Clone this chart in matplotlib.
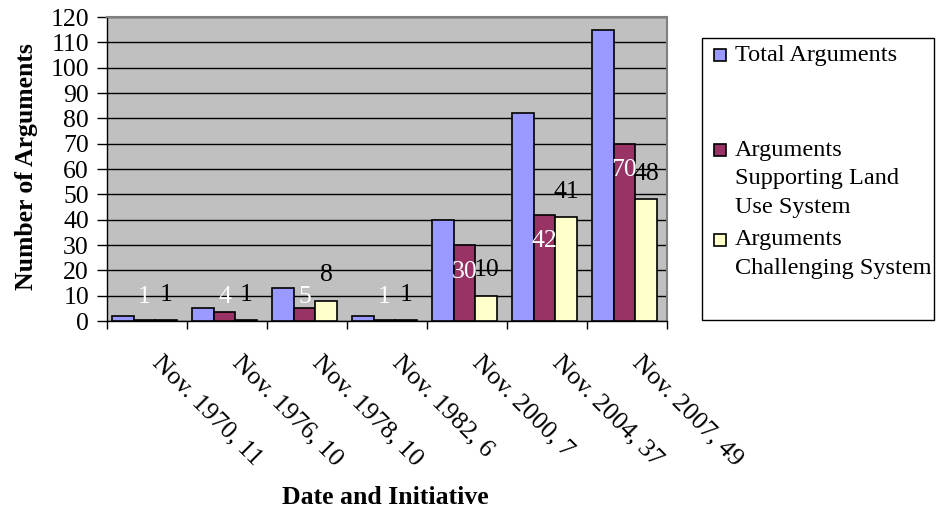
import matplotlib
matplotlib.use("Agg")
import matplotlib.pyplot as plt
from matplotlib.patches import Rectangle
import matplotlib.transforms as mtrans
import numpy as np

plt.rcParams['font.family'] = ['Liberation Serif', 'DejaVu Serif']

categories = ["Nov. 1970, 11", "Nov. 1976, 10", "Nov. 1978, 10", "Nov. 1982, 6",
              "Nov. 2000, 7", "Nov. 2004, 37", "Nov. 2007, 49"]
total = [2, 5, 13, 2, 40, 82, 115]
supporting = [0.4, 3.5, 5, 0.4, 30, 42, 70]
challenging = [0.4, 0.4, 8, 0.4, 10, 41, 48]
supporting_labels = ["1", "4", "5", "1", "30", "42", "70"]
challenging_labels = ["1", "1", "8", "1", "10", "41", "48"]
series_names = ["Total Arguments", "Arguments\nSupporting Land\nUse System",
                "Arguments\nChallenging System"]
colors = ["#9999FF", "#993366", "#FFFFCC"]

FS = 18.5
W, H = 936, 514
fig = plt.figure(figsize=(W / 100, H / 100), dpi=100)
ax = fig.add_axes([107 / W, 1 - 321 / H, (667 - 107) / W, (321 - 17) / H])
ax.set_facecolor("#C0C0C0")

x = np.arange(len(categories))
bw = 0.27
for i, (vals, c) in enumerate(zip([total, supporting, challenging], colors)):
    ax.bar(x + (i - 1) * bw - 0.03, vals, bw, color=c, edgecolor="black", linewidth=1.2, zorder=3)

for xi, v, lab in zip(x, supporting, supporting_labels):
    ax.text(xi - 0.03, max(v - 10.5, 9.6), lab, color="white", ha="center", va="center",
            fontsize=FS, zorder=5)
for xi, v, lab in zip(x, challenging, challenging_labels):
    ax.text(xi + bw - 0.03, v + 10, lab, color="black", ha="center", va="center",
            fontsize=FS, zorder=5)

ax.set_xlim(-0.5, len(categories) - 0.5)
ax.set_ylim(0, 120)
ax.set_yticks(range(0, 121, 10))
ax.yaxis.grid(True, color="black", linewidth=1)
ax.set_axisbelow(True)
ax.tick_params(axis="y", labelsize=FS, length=7, width=1, pad=6, direction="out")
ax.set_xticks(np.arange(len(categories) + 1) - 0.5, minor=False)
ax.set_xticklabels([])
ax.tick_params(axis="x", length=6, width=1, direction="out")
ax.set_xticks(x, minor=True)
ax.set_xticklabels(categories, minor=True, rotation=-45, ha="left", va="top",
                   rotation_mode="anchor", fontsize=FS)
ax.tick_params(axis="x", which="minor", length=0, pad=22)
offset = mtrans.ScaledTranslation(17 / 100, 0, fig.dpi_scale_trans)
for lbl in ax.get_xticklabels(minor=True):
    lbl.set_transform(lbl.get_transform() + offset)

for s in ["top", "right"]:
    ax.spines[s].set_color("#808080")
    ax.spines[s].set_linewidth(1.5)
for s in ["left", "bottom"]:
    ax.spines[s].set_color("black")
    ax.spines[s].set_linewidth(1)

fig.text(27 / W, 1 - 167 / H, "Number of Arguments", rotation=90, ha="center", va="center",
         fontsize=FS, fontweight="bold")
fig.text(385 / W, 1 - 497 / H, "Date and Initiative", ha="center", va="center",
         fontsize=FS, fontweight="bold")

# legend
fig.add_artist(Rectangle((702 / W, 1 - 320 / H), (934 - 702) / W, (320 - 38) / H,
                         transform=fig.transFigure, facecolor="white", edgecolor="black",
                         linewidth=1))
line_h = 28.5
starts = [55, 150, 240]
for name, c, y0 in zip(series_names, colors, starts):
    fig.add_artist(Rectangle((714 / W, 1 - (y0 + 6) / H), 12 / W, 12 / H,
                             transform=fig.transFigure, facecolor=c, edgecolor="black",
                             linewidth=1.2))
    for k, line in enumerate(name.split("\n")):
        fig.text(735 / W, 1 - (y0 + k * line_h) / H, line, ha="left", va="center", fontsize=17.5)

fig.savefig("out.png", dpi=100)
